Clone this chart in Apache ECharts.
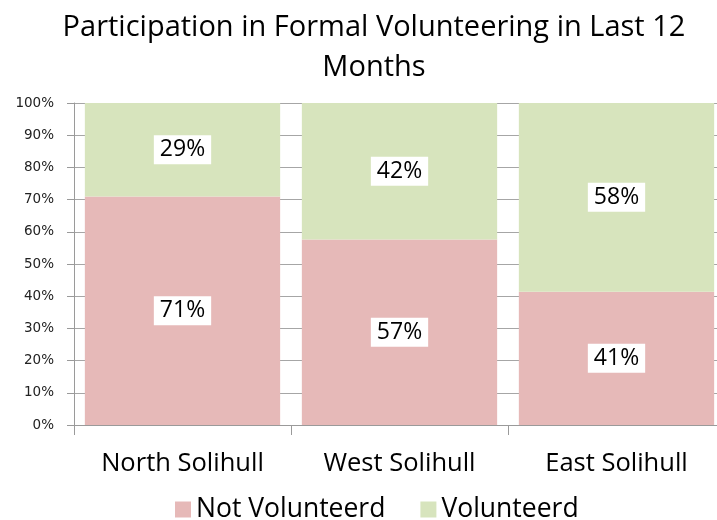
<!DOCTYPE html>
<html>
<head>
<meta charset="utf-8">
<script src="https://cdn.jsdelivr.net/npm/echarts@6/dist/echarts.min.js"></script>
<style>
  html, body { margin: 0; padding: 0; background: #fff; }
  #chart { width: 717px; height: 520px; }
</style>
</head>
<body>
<div id="chart"></div>
<script>
// Regions and survey results (percent of respondents)
var areas = ['North Solihull', 'West Solihull', 'East Solihull'];
var notVolunteered = [71, 57, 41];
var volunteered = [29, 42, 58];
var yTicks = ['0%', '10%', '20%', '30%', '40%', '50%', '60%', '70%', '80%', '90%', '100%'];

// 100% stacked: each bar is scaled to its own total, labels keep the stated values
function shareOf(values, i) {
  var total = notVolunteered[i] + volunteered[i];
  return values[i] / total * 100;
}
function seriesData(values) {
  return values.map(function (v, i) { return { value: shareOf(values, i), raw: v }; });
}

var FONT = '"Open Sans", Lato, sans-serif';
var labelStyle = {
  show: true,
  position: 'inside',
  formatter: function (p) { return p.data.raw + '%'; },
  color: '#000',
  fontFamily: FONT,
  fontSize: 23,
  backgroundColor: '#fff',
  padding: [3, 6, 3, 6]
};

var chart = echarts.init(document.getElementById('chart'), null, { renderer: 'canvas' });
chart.setOption({
  animation: false,
  backgroundColor: '#fff',
  title: {
    text: 'Participation in Formal Volunteering in Last 12\nMonths',
    left: 369,
    textAlign: 'center',
    top: 3,
    textStyle: { fontFamily: FONT, fontWeight: 'normal', fontSize: 29, color: '#000', lineHeight: 40 }
  },
  legend: {
    left: 175,
    top: 496,
    padding: 0,
    itemWidth: 16,
    itemHeight: 16,
    itemGap: 35,
    icon: 'rect',
    textStyle: { fontFamily: FONT, fontSize: 26.5, color: '#000' },
    data: ['Not Volunteerd', 'Volunteerd']
  },
  grid: { left: 74, top: 103, width: 651, height: 322, outerBoundsMode: 'none', containLabel: false },
  xAxis: {
    type: 'category',
    data: areas,
    axisLine: { lineStyle: { color: '#9a9a9a', width: 1 } },
    axisTick: { show: true, length: 10, lineStyle: { color: '#9a9a9a' } },
    axisLabel: { fontFamily: FONT, fontSize: 25.5, color: '#000', margin: 26 }
  },
  yAxis: {
    type: 'value',
    min: 0,
    max: 100,
    interval: 10,
    axisLine: { show: true, lineStyle: { color: '#9a9a9a', width: 1 } },
    axisTick: { show: true, length: 7, lineStyle: { color: '#9a9a9a' } },
    splitLine: { show: true, lineStyle: { color: '#a6a6a6', width: 1 } },
    axisLabel: {
      fontFamily: '"DejaVu Sans", sans-serif',
      fontSize: 13.5,
      color: '#222',
      margin: 20,
      formatter: function (v) { return yTicks[Math.round(v / 10)]; }
    }
  },
  series: [
    {
      name: 'Not Volunteerd',
      type: 'bar',
      stack: 'total',
      barCategoryGap: '10%',
      itemStyle: { color: '#e6b9b8' },
      label: labelStyle,
      data: seriesData(notVolunteered)
    },
    {
      name: 'Volunteerd',
      type: 'bar',
      stack: 'total',
      barCategoryGap: '10%',
      itemStyle: { color: '#d7e4bd' },
      label: labelStyle,
      data: seriesData(volunteered)
    }
  ]
});
</script>
</body>
</html>
